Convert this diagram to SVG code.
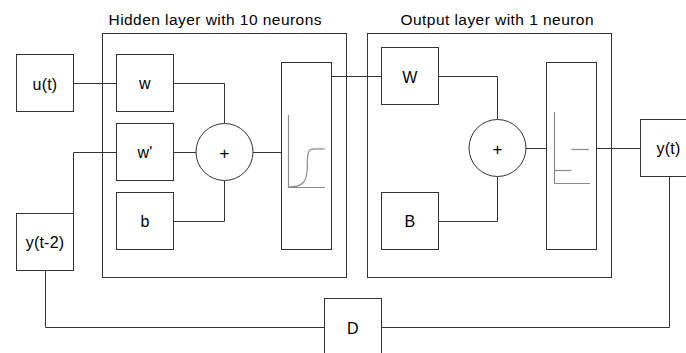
<svg xmlns="http://www.w3.org/2000/svg" width="686" height="353" viewBox="0 0 686 353">
<style>
.box{fill:#fff;stroke:#333;stroke-width:1}
.frame{fill:none;stroke:#333;stroke-width:1}
.edge{fill:none;stroke:#333;stroke-width:1}
.glyph{fill:none;stroke:#8a8a8a;stroke-width:1.2}
text{font-family:"Liberation Sans",Arial,sans-serif;font-size:16px;fill:#000;text-anchor:middle;letter-spacing:0.2px}
.title{font-size:15.5px;letter-spacing:0}
.plus{font-size:17px}
</style>
<rect width="686" height="353" fill="#fff"/>
<g id="hidden-layer">
<rect class="frame" x="102.5" y="33.5" width="244" height="244"/>
<text class="title" x="215" y="25" textLength="213" lengthAdjust="spacing">Hidden layer with 10 neurons</text>
</g>
<g id="output-layer">
<rect class="frame" x="367.5" y="33.5" width="244" height="244"/>
<text class="title" x="497" y="25" textLength="193" lengthAdjust="spacing">Output layer with 1 neuron</text>
</g>
<g id="connectors">
<path class="edge" d="M73.5 83.5H116.5"/>
<path class="edge" d="M173.5 83.5H224.5V123.5"/>
<path class="edge" d="M173.5 152.5H196"/>
<path class="edge" d="M173.5 221.5H224.5V180.5"/>
<path class="edge" d="M253 152.5H281.5"/>
<path class="edge" d="M73.5 213.5V152.5H116.5"/>
<path class="edge" d="M331.5 76.5H381.5"/>
<path class="edge" d="M438.5 76.5H497.5V119.5"/>
<path class="edge" d="M438.5 221.5H497.5V176.5"/>
<path class="edge" d="M526 148.5H546.5"/>
<path class="edge" d="M596.5 148.5H640.5"/>
<path class="edge" d="M669.5 176.5V327.5H381.5"/>
<path class="edge" d="M324.5 327.5H45.5V270.5"/>
</g>
<g id="u_t">
<rect class="box" x="16.5" y="54.5" width="57" height="57"/>
<text x="45" y="89.5">u(t)</text>
</g>
<g id="w">
<rect class="box" x="116.5" y="54.5" width="57" height="57"/>
<text x="145" y="88.5">w</text>
</g>
<g id="w_prime">
<rect class="box" x="116.5" y="123.5" width="57" height="57"/>
<text x="145" y="157.5">w'</text>
</g>
<g id="b">
<rect class="box" x="116.5" y="192.5" width="57" height="57"/>
<text x="145" y="226.5">b</text>
</g>
<g id="sum_hidden">
<circle class="box" cx="224.5" cy="152" r="28.5"/>
<text class="plus" x="224.5" y="158.5">+</text>
</g>
<g id="act_hidden">
<rect class="box" x="281.5" y="62.5" width="50" height="187"/>
<path class="glyph" d="M288.5 115V187.5H325"/>
<path class="glyph" d="M289 187C302 187 306 182 307 172C308 162 306 153 310 150C313 148 319 149 325 149"/>
</g>
<g id="y_t_minus_2">
<rect class="box" x="16.5" y="213.5" width="57" height="57"/>
<text x="45" y="248">y(t-2)</text>
</g>
<g id="W">
<rect class="box" x="381.5" y="47.5" width="57" height="57"/>
<text x="410" y="82.5">W</text>
</g>
<g id="B">
<rect class="box" x="381.5" y="192.5" width="57" height="57"/>
<text x="410" y="226.5">B</text>
</g>
<g id="sum_output">
<circle class="box" cx="497.5" cy="148" r="28.5"/>
<text class="plus" x="497.5" y="155">+</text>
</g>
<g id="act_output">
<rect class="box" x="546.5" y="62.5" width="50" height="187"/>
<path class="glyph" d="M554.5 112V183.5H590"/>
<path class="glyph" d="M554.5 170.5H571"/>
<path class="glyph" d="M571.5 149.5H589"/>
</g>
<g id="y_t">
<rect class="box" x="640.5" y="119.5" width="57" height="57"/>
<text x="668.5" y="154">y(t)</text>
</g>
<g id="D">
<rect class="box" x="324.5" y="298.5" width="57" height="57"/>
<text x="353" y="333.5">D</text>
</g>
</svg>
